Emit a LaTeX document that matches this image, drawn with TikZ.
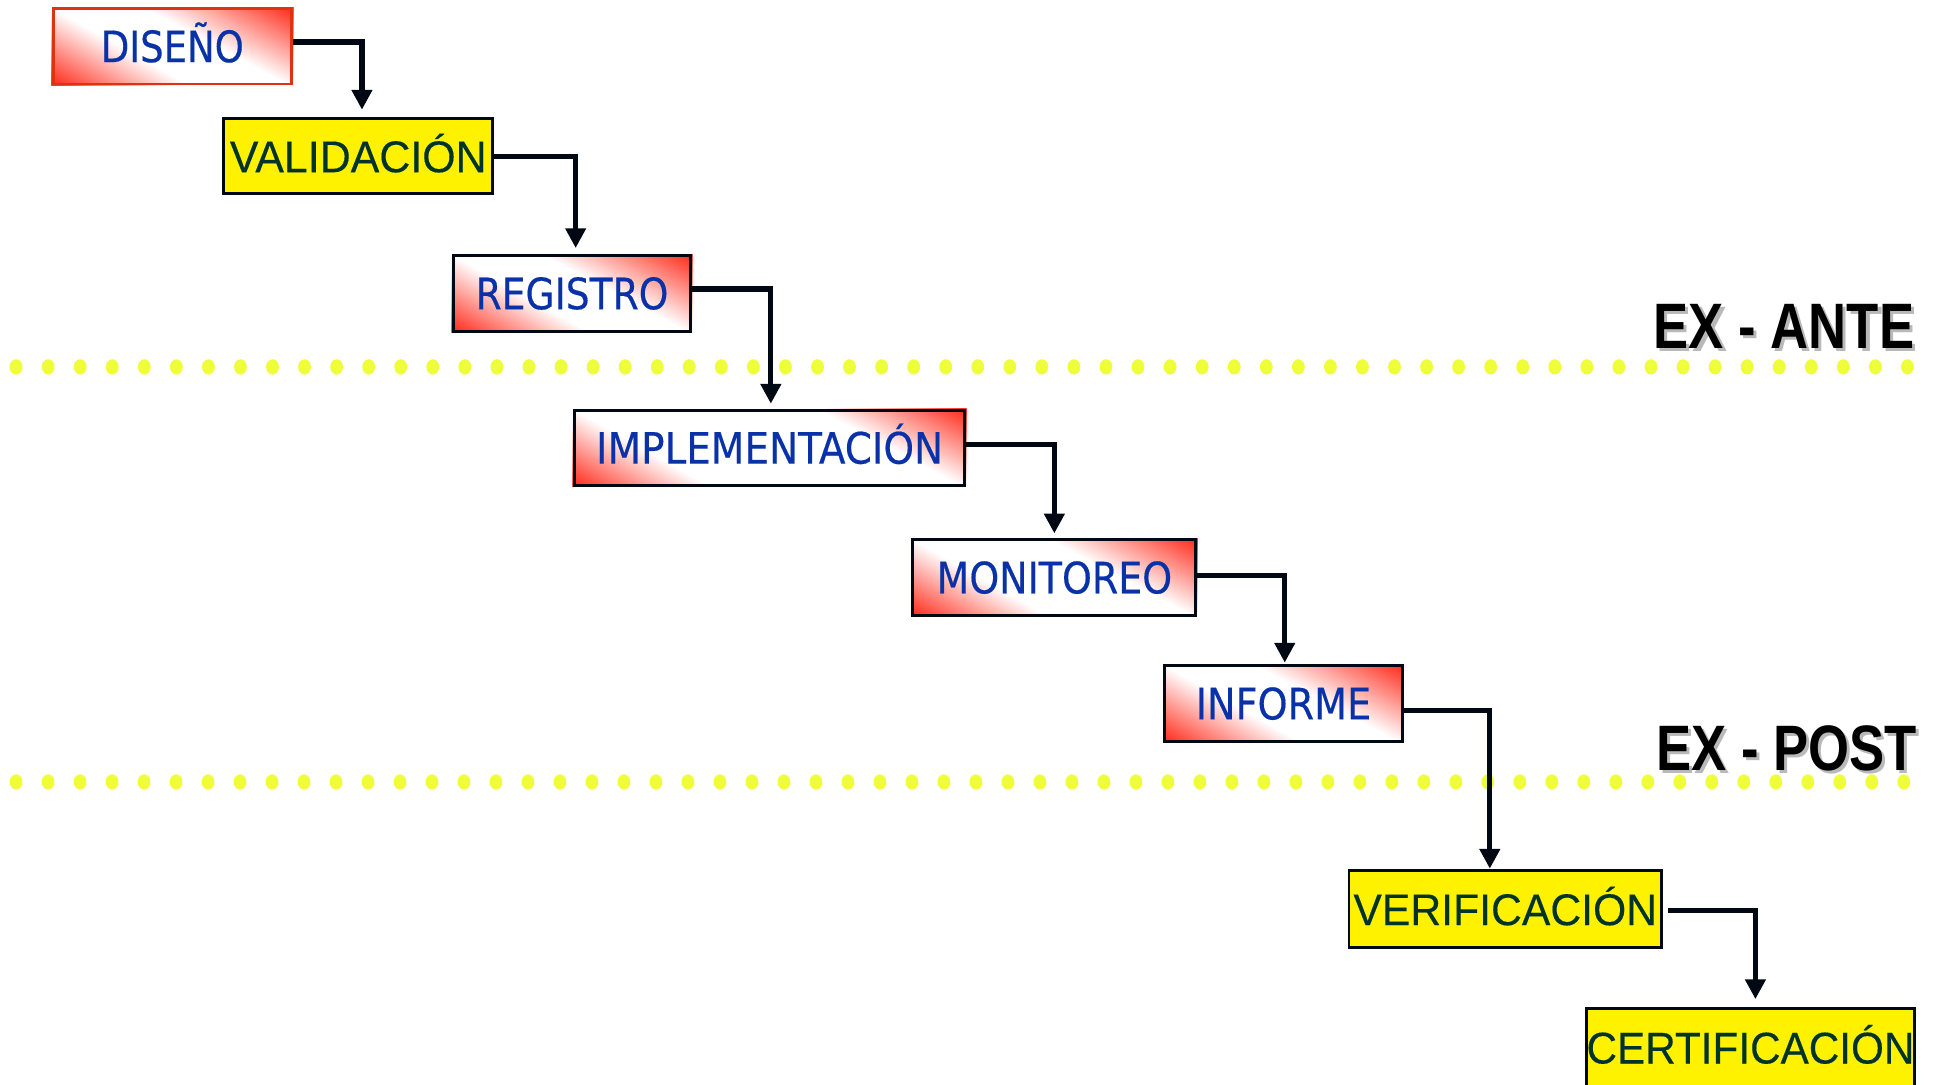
\documentclass[tikz,border=0pt]{standalone}
\usepackage{fontspec}
\usepackage{graphicx}
\setmainfont{Liberation Sans}
\newfontfamily\boxfont{DejaVu Sans}[FakeBold=0.4]
\newfontfamily\yelfont{Liberation Sans}[FakeBold=0.25]
\usetikzlibrary{arrows.meta,backgrounds}
\definecolor{boxblue}{HTML}{0A32A8}
\definecolor{txtgreen}{HTML}{00332A}
\definecolor{dotyellow}{HTML}{EEFF3A}
\definecolor{linenavy}{HTML}{000814}
\definecolor{gradred}{HTML}{FF2A1A}
\definecolor{borderred}{HTML}{DD3311}
\newcommand{\sqzl}[1]{\scalebox{0.82}[1]{#1}}
% corner gradient: red in bottom-left and top-right corners, white elsewhere
\newcommand{\cornergrad}[1]{%
  \begin{pgfonlayer}{background}
  \begin{scope}
    \clip (#1.south west) rectangle (#1.north east);
    \fill[white] (#1.south west) rectangle (#1.north east);
    \foreach \k in {32,31,...,1}{
      \pgfmathsetmacro\mygt{\k/32}
      \pgfmathsetmacro\mygi{100*(1-\mygt+1/32)^1.0}
      \fill[gradred!\mygi!white] (#1.south west) -- ++(\mygt*110,0) -- ++(-\mygt*110,-\mygt*62) -- cycle;
      \fill[gradred!\mygi!white] (#1.north east) -- ++(-\mygt*120,0) -- ++(\mygt*120,\mygt*64) -- cycle;
    }
  \end{scope}
  \end{pgfonlayer}}
\tikzset{
  gradbox/.style={draw=linenavy, line width=1.2pt,
    minimum height=30.5pt, inner sep=0pt, text=boxblue,
    font=\boxfont\fontsize{17.5}{20}\selectfont, text height=12.8pt, text depth=0pt},
  yelbox/.style={draw=linenavy, line width=1.2pt, fill=yellow,
    minimum height=30.5pt, inner sep=0pt, text=txtgreen,
    font=\yelfont\fontsize{18}{21}\selectfont, text height=12.9pt, text depth=0pt},
  conn/.style={draw=linenavy, line width=2.1pt, -{Triangle[width=8pt,length=8pt]}},
  phase/.style={anchor=base east, inner sep=0pt, font=\bfseries\fontsize{26}{30}\selectfont},
  dot/.style={fill=dotyellow}
}
\begin{document}
\begin{tikzpicture}[x=0.5pt,y=-0.5pt]
\useasboundingbox (0,0) rectangle (1568,877.5);
% dotted separators
\foreach \i in {0,...,59}{
  \fill[dot] (13+\i*25.95,297) ellipse [x radius=2.6pt, y radius=3.1pt];
  \fill[dot] (13+\i*25.9,633) ellipse [x radius=2.6pt, y radius=3.1pt];
}
% phase labels
\node[phase, text=gray!55] (anteS) at (1552.5,284.5) {\sqzl{EX - ANTE}};
\node[phase] (ante) at (1550,282) {\sqzl{EX - ANTE}};
\node[phase, text=gray!55] (postS) at (1554.5,626.5) {\sqzl{EX - POST}};
\node[phase] (post) at (1552,624) {\sqzl{EX - POST}};
% boxes
\node[gradbox, draw=borderred, minimum width=96.5pt] (dis) at (139.5,37.5) {\scalebox{0.855}[1]{DISEÑO}};
\node[yelbox, minimum width=109pt] (val) at (290,126.5) {\scalebox{0.965}[1]{VALIDACIÓN}};
\node[gradbox, minimum width=96pt] (reg) at (463,237.5) {\scalebox{0.87}[1]{REGISTRO}};
\node[gradbox, minimum width=158pt] (imp) at (623,362.5) {\scalebox{0.9}[1]{IMPLEMENTACIÓN}};
\node[gradbox, minimum width=114.5pt] (mon) at (853.5,467.5) {\scalebox{0.878}[1]{MONITOREO}};
\node[gradbox, minimum width=96pt] (inf) at (1039,569.5) {\scalebox{0.883}[1]{INFORME}};
\node[yelbox, minimum width=126.5pt, minimum height=31pt] (ver) at (1218.5,736) {\scalebox{0.96}[1]{VERIFICACIÓN}};
\node[yelbox, minimum width=131pt, minimum height=32pt] (cer) at (1417,848) {\scalebox{0.95}[1]{CERTIFICACIÓN}};
\cornergrad{dis}
\cornergrad{reg}
\cornergrad{imp}
\cornergrad{mon}
\cornergrad{inf}
% connectors
\draw[conn, shorten >=3pt] ([yshift=1.75pt]dis.east) -| ([xshift=1.5pt]val.north);
\draw[conn, shorten >=2.5pt] (val.east) -| ([xshift=1.5pt]reg.north);
\draw[conn, shorten >=2pt] ([yshift=1.75pt]reg.east) -| ([xshift=0.5pt]imp.north);
\draw[conn, shorten >=2pt] ([yshift=1.25pt]imp.east) -| (mon.north);
\draw[conn, shorten >=0.7pt] ([yshift=0.75pt]mon.east) -| ([xshift=0.5pt]inf.north);
\draw[conn, shorten >=0.3pt] ([yshift=-2.75pt]inf.east) -| ([xshift=-6.25pt]ver.north);
\draw[conn, shorten >=3pt] ([xshift=2pt,yshift=-0.5pt]ver.east) -| ([xshift=2pt]cer.north);
\end{tikzpicture}
\end{document}
